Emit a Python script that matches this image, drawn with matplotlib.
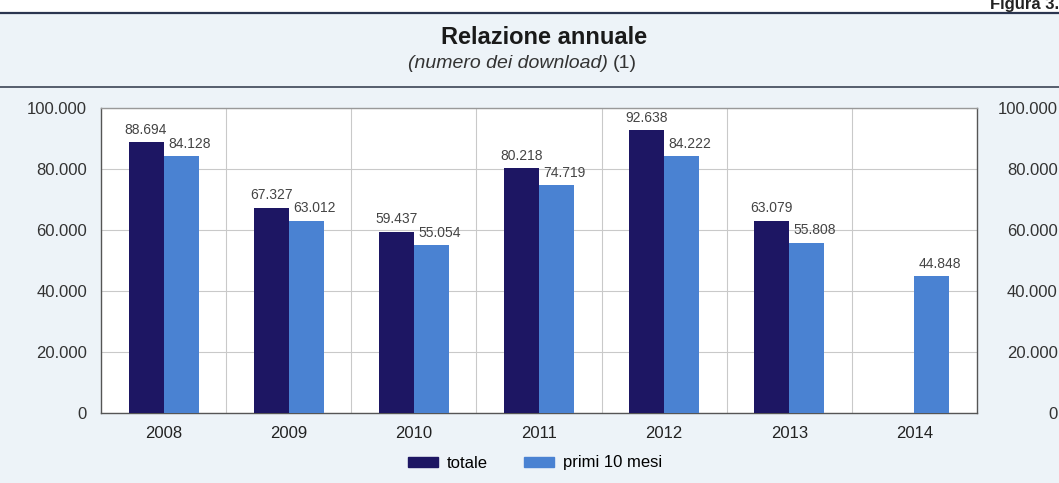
import matplotlib
matplotlib.use("Agg")
import matplotlib.pyplot as plt
import numpy as np
from matplotlib.patches import Rectangle
from matplotlib.lines import Line2D

plt.rcParams['font.family'] = ['Liberation Sans', 'DejaVu Sans']

years = ["2008", "2009", "2010", "2011", "2012", "2013", "2014"]
totale = [88694, 67327, 59437, 80218, 92638, 63079, None]
primi_10_mesi = [84128, 63012, 55054, 74719, 84222, 55808, 44848]
y_ticks = [0, 20000, 40000, 60000, 80000, 100000]

DARK = "#1d1663"
LIGHT = "#4a82d2"
BG = "#edf3f8"


def fmt(v):
    return f"{v:,}".replace(",", ".")


W, H = 1059, 483
fig = plt.figure(figsize=(W / 100, H / 100), dpi=100, facecolor=BG)

# white band above the top rule, header label and rules
fig.patches.append(Rectangle((0, 1 - 13 / H), 1, 13 / H, transform=fig.transFigure,
                             facecolor="white", edgecolor="none", zorder=0))
fig.text(1.0, 1 - 9 / H, "Figura 3.", ha="right", va="baseline", fontsize=12,
         fontweight="bold", color="#222222")
fig.add_artist(Line2D([0, 1], [1 - 13 / H, 1 - 13 / H], transform=fig.transFigure,
                      color="#2b3550", lw=1.6))
fig.add_artist(Line2D([0, 1], [1 - 87 / H, 1 - 87 / H], transform=fig.transFigure,
                      color="#4a5262", lw=1.3))

fig.text(544 / W, 1 - 38 / H, "Relazione annuale", ha="center", va="center",
         fontsize=17, fontweight="bold", color="#1a1a1a")
sub = fig.text(408 / W, 1 - 63 / H, "(numero dei download)", ha="left", va="center",
               fontsize=14, fontstyle="italic", color="#333333")
# "(1)" set upright, right after the italic subtitle
fig.canvas.draw()
bb = sub.get_window_extent()
fig.text((bb.x1 + 5) / W, 1 - 63 / H, "(1)", fontsize=14, color="#333333",
         ha="left", va="center")

ax = fig.add_axes([101 / W, 1 - 413 / H, (977 - 101) / W, (413 - 108) / H])
ax.set_facecolor("white")

x = np.arange(len(years))
bw = 0.28
tot_vals = [np.nan if v is None else v for v in totale]
ax.bar(x - bw / 2, tot_vals, bw, color=DARK, zorder=3, label="totale")
ax.bar(x + bw / 2, primi_10_mesi, bw, color=LIGHT, zorder=3, label="primi 10 mesi")

for xi, v in zip(x, totale):
    if v is not None:
        ax.annotate(fmt(v), (xi - bw / 2, v), xytext=(0, 4), textcoords="offset points",
                    ha="center", va="bottom", fontsize=10, color="#444444")
for xi, v in zip(x, primi_10_mesi):
    ax.annotate(fmt(v), (xi + bw / 2, v), xytext=(6, 4), textcoords="offset points",
                ha="center", va="bottom", fontsize=10, color="#444444")

ax.set_xlim(-0.5, len(years) - 0.5)
ax.set_ylim(0, 100000)
ax.set_yticks(y_ticks)
ax.set_yticklabels([fmt(t) for t in y_ticks])
ax.set_xticks(x)
ax.set_xticklabels(years)
ax.set_xticks(np.arange(0.5, len(years) - 1, 1), minor=True)
ax.tick_params(axis="x", which="both", length=0, pad=9, labelsize=12, labelcolor="#222222")
ax.tick_params(axis="y", length=0, pad=10, labelsize=12, labelcolor="#333333")
ax.grid(axis="y", which="major", color="#c9c9c9", lw=0.8, zorder=0)
ax.grid(axis="x", which="minor", color="#c9c9c9", lw=0.8, zorder=0)
for s in ax.spines.values():
    s.set_color("#555555")
    s.set_linewidth(1.0)
ax.spines["top"].set_color("#999999")

ax2 = ax.twinx()
ax2.set_ylim(ax.get_ylim())
ax2.set_yticks(y_ticks)
ax2.set_yticklabels([fmt(t) for t in y_ticks], ha="right")
ax2.tick_params(axis="y", length=0, pad=58, labelsize=12, labelcolor="#333333")
for s in ax2.spines.values():
    s.set_visible(False)

handles = [Rectangle((0, 0), 1, 1, color=DARK), Rectangle((0, 0), 1, 1, color=LIGHT)]
fig.legend(handles, ["totale", "primi 10 mesi"], loc="center", ncol=2,
           bbox_to_anchor=(535 / W, 1 - 463 / H), frameon=False, fontsize=12,
           handlelength=1.8, handleheight=0.55, handletextpad=0.5, columnspacing=2.2)

fig.savefig("out.png", dpi=100, facecolor=BG)
